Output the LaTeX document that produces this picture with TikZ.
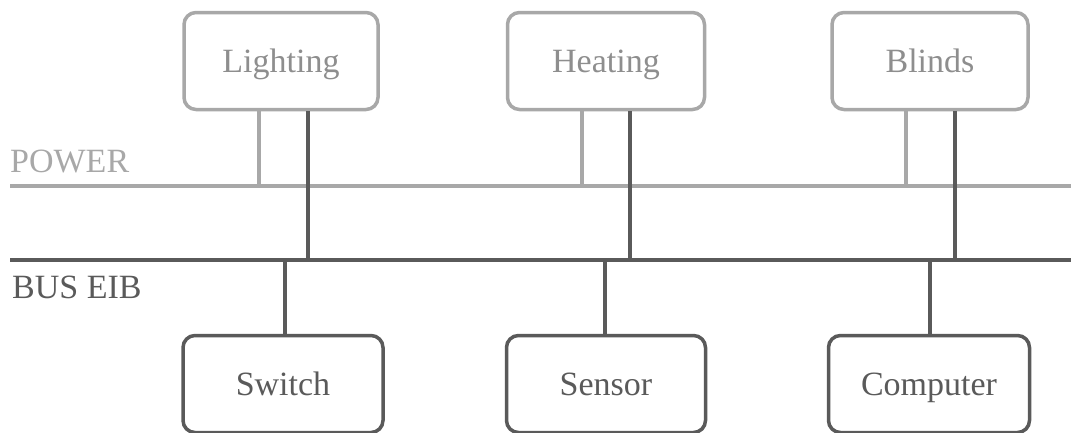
\documentclass[tikz,border=0pt]{standalone}
\usepackage{fontspec}
\setmainfont{Liberation Serif}
\usetikzlibrary{positioning,calc}

\definecolor{pwrgray}{HTML}{A8A8A8}
\definecolor{pwrtext}{HTML}{8E8E8E}
\definecolor{busgray}{HTML}{5A5A5A}

\begin{document}
\begin{tikzpicture}[
    x=1pt, y=-1pt,
    font=\fontsize{34}{40}\selectfont,
    device/.style={draw, fill=white, rounded corners=12pt, line width=3.5pt,
                   minimum height=97pt, align=center,
                   text height=22pt, text depth=0pt},
    load/.style={device, draw=pwrgray, text=pwrtext},
    ctrl/.style={device, draw=busgray, text=busgray},
    label/.style={inner sep=0pt, anchor=base west},
    pwr/.style={draw=pwrgray, line width=4.5pt},
    bus/.style={draw=busgray, line width=4.5pt}
  ]
  \useasboundingbox (0,0) rectangle (1071,432);

  % ---------- rails --------------------------------------------------------
  \coordinate (pwrW) at (10,186);
  \coordinate (pwrE) at (1071,186);
  \coordinate (busW) at (10,260);
  \coordinate (busE) at (1071,260);

  \node[label, text=pwrgray] (pwrlbl) at (10,172) {POWER};
  \node[label, text=busgray] (buslbl) at (12,298) {BUS EIB};

  % ---------- loads (top) --------------------------------------------------
  \node[load, minimum width=194pt] (light) at (281,61)  {Lighting};
  \node[load, minimum width=197pt] (heat)  at (606,61)  {Heating};
  \node[load, minimum width=196pt] (blind) at (930,61)  {Blinds};

  % ---------- controllers (bottom) -----------------------------------------
  \node[ctrl, minimum width=200pt] (switch) at (283,384) {Switch};
  \node[ctrl, minimum width=199pt] (sensor) at (606,384) {Sensor};
  \node[ctrl, minimum width=201pt] (comp)   at (929,384) {Computer};

  % ---------- wiring -------------------------------------------------------
  \draw[pwr] (pwrW) -- (pwrE);

  \draw[pwr] ([xshift=-22pt]light.south) -- ([xshift=-22pt]light.south |- pwrW);
  \draw[pwr] ([xshift=-24pt]heat.south)  -- ([xshift=-24pt]heat.south |- pwrW);
  \draw[pwr] ([xshift=-24pt]blind.south) -- ([xshift=-24pt]blind.south |- pwrW);

  \draw[bus] ([xshift=27pt]light.south) -- ([xshift=27pt]light.south |- busW);
  \draw[bus] ([xshift=24pt]heat.south)  -- ([xshift=24pt]heat.south |- busW);
  \draw[bus] ([xshift=25pt]blind.south) -- ([xshift=25pt]blind.south |- busW);

  \draw[bus] (busW) -- (busE);

  \draw[bus] ([xshift=2pt]switch.north) -- ([xshift=2pt]switch.north |- busW);
  \draw[bus] ([xshift=-1pt]sensor.north) -- ([xshift=-1pt]sensor.north |- busW);
  \draw[bus] ([xshift=1pt]comp.north) -- ([xshift=1pt]comp.north |- busW);

\end{tikzpicture}
\end{document}
